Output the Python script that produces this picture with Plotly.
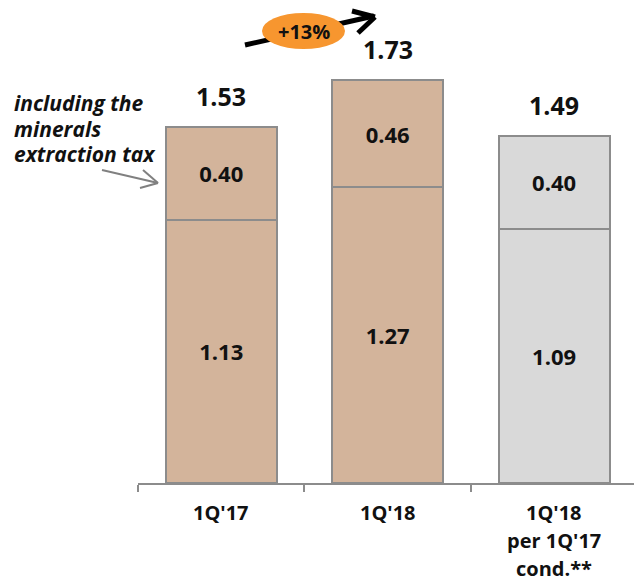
import plotly.graph_objects as go

categories = ["1Q'17", "1Q'18", "1Q'18\nper 1Q'17\ncond.**"]
base_values = [1.13, 1.27, 1.09]
tax_values = [0.40, 0.46, 0.40]
totals = [1.53, 1.73, 1.49]
growth_label = "+13%"
note_lines = ["including the", "minerals", "extraction tax"]

TAN = "#D3B49B"
GRAY = "#D9D9D9"
EDGE = "#8C8C8C"
FONT = "Open Sans"
WT = 700
bar_colors = [TAN, TAN, GRAY]

W, H = 634, 578
ML, MT, MB = 138, 0, 95
XR = [-0.5, 2.48]
PH = H - MT - MB
PW = W - ML
YR = [0, PH / 233.0]

def pxp(px):
    return (px - ML) / PW

def pyp(py):
    return (MT + PH - py) / PH

fig = go.Figure()
for vals in (base_values, tax_values):
    fig.add_trace(go.Bar(
        x=categories, y=vals, width=0.667,
        marker=dict(color=bar_colors, line=dict(color=EDGE, width=2)),
        texttemplate="%{y:.2f}", textposition="inside", insidetextanchor="middle",
        textfont=dict(family=FONT, size=22, color="#111111", weight=WT),
        hoverinfo="skip", cliponaxis=False,
    ))

ann = []
for c, t in zip(categories, totals):
    ann.append(dict(x=c, y=t, xref="x", yref="y", text=f"{t:.2f}", showarrow=False,
                    yanchor="middle", yshift=31,
                    font=dict(family=FONT, size=25, color="#111111", weight=WT)))
for c in categories:
    for i, line in enumerate(c.split("\n")):
        ann.append(dict(x=c, y=0, xref="x", yref="y", text=line, showarrow=False,
                        yanchor="middle", yshift=-29 - 28 * i,
                        font=dict(family=FONT, size=20, color="#111111", weight=WT)))
for i, line in enumerate(note_lines):
    ann.append(dict(x=pxp(12), y=pyp(103 + 25.5 * i), xref="paper", yref="paper",
                    xanchor="left", yanchor="middle", text=f"<i>{line}</i>", showarrow=False,
                    font=dict(family=FONT, size=21, color="#111111", weight=WT)))

shapes = []
def seg(p0, p1, color, width):
    shapes.append(dict(type="line", xref="paper", yref="paper",
                       x0=pxp(p0[0]), y0=pyp(p0[1]), x1=pxp(p1[0]), y1=pyp(p1[1]),
                       line=dict(color=color, width=width)))

# growth arrow
seg((245, 45), (374, 16), "black", 5)
seg((352, 11), (375, 17), "black", 5)
seg((358, 33), (375, 17), "black", 5)
shapes.append(dict(type="circle", xref="paper", yref="paper",
                   x0=pxp(262), x1=pxp(345), y0=pyp(49), y1=pyp(13),
                   fillcolor="#F7962F", line=dict(width=0), layer="above"))
ann.append(dict(x=pxp(303.5), y=pyp(31), xref="paper", yref="paper", text=growth_label,
                showarrow=False, yanchor="middle",
                font=dict(family=FONT, size=20, color="#111111", weight=WT)))
# note arrow
seg((102, 170), (158, 183), "#808080", 2)
seg((143, 170), (158, 183), "#808080", 2)
seg((140, 188), (158, 183), "#808080", 2)

fig.update_layout(
    width=W, height=H, barmode="stack", showlegend=False,
    margin=dict(l=ML, r=0, t=MT, b=MB),
    plot_bgcolor="white", paper_bgcolor="white",
    annotations=ann, shapes=shapes,
    xaxis=dict(type="category", range=XR, showline=True, linecolor=EDGE, linewidth=2,
               ticks="outside", tickson="boundaries", ticklen=7, tickcolor=EDGE, tickwidth=2,
               showticklabels=False, showgrid=False, zeroline=False, fixedrange=True),
    yaxis=dict(range=YR, visible=False, fixedrange=True),
)
fig.write_html("out.html")
